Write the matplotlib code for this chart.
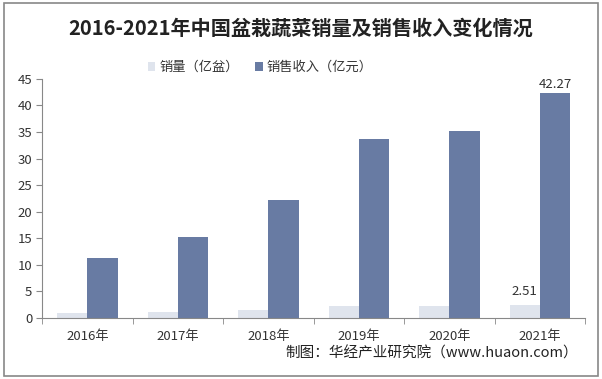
import matplotlib.pyplot as plt
from matplotlib.patches import Rectangle
import numpy as np

plt.rcParams['font.family'] = ['Noto Sans CJK SC', 'DejaVu Sans']

#--- Data
years = ['2016年', '2017年', '2018年', '2019年', '2020年', '2021年']
sales = [0.95, 1.1, 1.5, 2.25, 2.25, 2.51]        # 销量（亿盆）
revenue = [11.3, 15.2, 22.2, 33.7, 35.2, 42.27]   # 销售收入（亿元）
y_ticks = [0, 5, 10, 15, 20, 25, 30, 35, 40, 45]

light = '#DFE4ED'
dark = '#687BA3'

fig = plt.figure(figsize=(6.02, 3.79), dpi=100)
ax = fig.add_axes([0.070, 0.161, 0.902, 0.631])

x = np.arange(len(years))
w = 0.335
b1 = ax.bar(x - w / 2, sales, width=w, color=light, label='销量（亿盆）')
b2 = ax.bar(x + w / 2, revenue, width=w, color=dark, label='销售收入（亿元）')

#--- only the last year is labelled
ax.text(x[-1] - w / 2, sales[-1] + 1.2, f'{sales[-1]:.2f}', ha='center', va='bottom', fontsize=9.5, color='#333333')
ax.text(x[-1] + w / 2, revenue[-1] + 0.4, f'{revenue[-1]:.2f}', ha='center', va='bottom', fontsize=9.5, color='#333333')

ax.set_xlim(-0.5, len(years) - 0.5)
ax.set_ylim(0, 45)
ax.set_yticks(y_ticks)
ax.set_xticks(x)
ax.set_xticklabels(years)
ax.set_xticks(np.arange(len(years) + 1) - 0.5, minor=True)
ax.tick_params(axis='x', which='major', length=0, pad=9, labelsize=9.5, colors='#333333')
ax.tick_params(axis='x', which='minor', length=4, color='#888888')
ax.tick_params(axis='y', length=4, color='#888888', labelsize=9.5, labelcolor='#333333', pad=3)
for s in ['top', 'right']:
    ax.spines[s].set_visible(False)
for s in ['left', 'bottom']:
    ax.spines[s].set_color('#888888')
    ax.spines[s].set_linewidth(0.8)

fig.text(0.5, 0.925, '2016-2021年中国盆栽蔬菜销量及销售收入变化情况', ha='center', va='center',
         fontsize=14.5, fontweight='bold', color='#222222')

fig.legend(handles=[b1, b2], loc='center', bbox_to_anchor=(0.432, 0.822), ncol=2, frameon=False,
           fontsize=9.5, handlelength=0.6, handleheight=0.6, handletextpad=0.3, columnspacing=1.2,
           labelcolor='#333333')

#--- source
fig.text(0.96, 0.068, '制图：华经产业研究院（www.huaon.com）', ha='right', va='center',
         fontsize=10.5, color='#222222')

fig.patches.append(Rectangle((0.006, 0.008), 0.988, 0.984, transform=fig.transFigure,
                             fill=False, edgecolor='#888888', linewidth=1.2))

fig.savefig('out.png', dpi=100)
